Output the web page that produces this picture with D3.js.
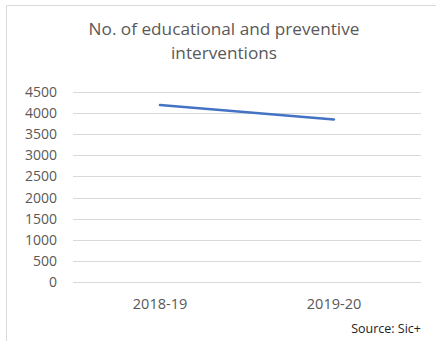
<!DOCTYPE html>
<html lang="en">
<head>
    <meta charset="UTF-8">
    <title>No. of educational and preventive interventions</title>
    <script src="https://cdn.jsdelivr.net/npm/d3@7/dist/d3.min.js"></script>
    <style>
        body { margin: 0; background: #fff; }
        text { font-family: "Open Sans", sans-serif; }
    </style>
</head>
<body>
<svg></svg>
<script>
    const years = ["2018-19", "2019-20"];
    const interventions = [4190, 3850];
    const yTicks = [0, 500, 1000, 1500, 2000, 2500, 3000, 3500, 4000, 4500];
    const titleLines = ["No. of educational and preventive", "interventions"];

    const width = 436, height = 341;
    const margin = {top: 92, right: 15, bottom: 59, left: 73};

    const svg = d3.select("svg")
        .attr("width", width)
        .attr("height", height);

    // chart frame: only left and top edges show in the crop
    svg.append("path")
        .attr("d", `M6.5,${height}V5.5H${width}`)
        .attr("fill", "none")
        .attr("stroke", "#d9d9d9");

    svg.append("g")
        .selectAll("text")
        .data(titleLines)
        .join("text")
        .attr("x", 224)
        .attr("y", (d, i) => 35 + i * 24)
        .attr("text-anchor", "middle")
        .attr("fill", "#595959")
        .style("font-size", "17.2px")
        .text(d => d);

    const x = d3.scaleBand()
        .domain(years)
        .range([margin.left, width - margin.right]);

    const y = d3.scaleLinear()
        .domain([0, 4500])
        .range([height - margin.bottom, margin.top]);

    // gridlines
    svg.append("g")
        .attr("stroke", "#d9d9d9")
        .selectAll("line")
        .data(yTicks)
        .join("line")
        .attr("x1", margin.left)
        .attr("x2", width - margin.right)
        .attr("y1", d => Math.round(y(d)) + 0.5)
        .attr("y2", d => Math.round(y(d)) + 0.5);

    const yAxis = svg.append("g")
        .attr("transform", `translate(${margin.left - 16},0)`)
        .call(d3.axisLeft(y).tickValues(yTicks).tickFormat(d3.format("d")).tickSize(0).tickPadding(0));
    yAxis.select(".domain").remove();
    yAxis.selectAll("text")
        .attr("fill", "#595959")
        .style("font-size", "14px");

    const xAxis = svg.append("g")
        .attr("transform", `translate(0,${height - margin.bottom})`)
        .call(d3.axisBottom(x).tickSize(0).tickPadding(17));
    xAxis.select(".domain").remove();
    xAxis.selectAll("text")
        .attr("fill", "#595959")
        .style("font-size", "14.5px");

    const line = d3.line()
        .x((d, i) => x(years[i]) + x.bandwidth() / 2)
        .y(d => y(d));

    svg.append("path")
        .datum(interventions)
        .attr("fill", "none")
        .attr("stroke", "#4472c4")
        .attr("stroke-width", 2.5)
        .attr("stroke-linecap", "round")
        .attr("d", line);

    svg.append("text")
        .attr("x", 421)
        .attr("y", 333)
        .attr("text-anchor", "end")
        .attr("fill", "#222")
        .style("font-size", "12.5px")
        .text("Source: Sic+");
</script>
</body>
</html>
